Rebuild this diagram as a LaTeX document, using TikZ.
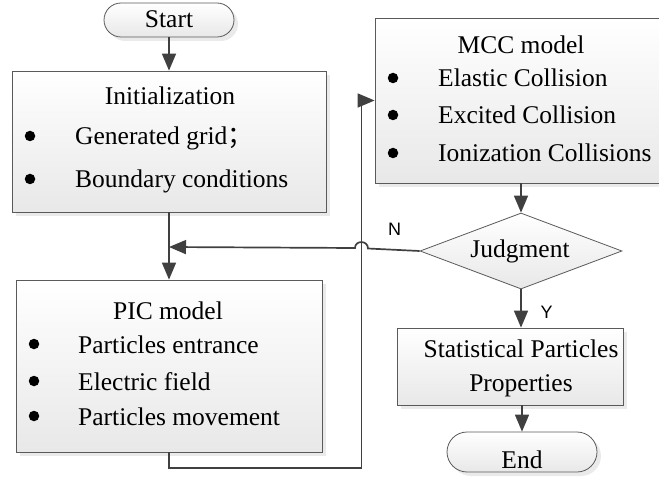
\documentclass[tikz,border=0pt]{standalone}
\usepackage{fontspec}
\setmainfont{Liberation Serif}
\newfontfamily\cjk{Noto Sans CJK SC}
\newfontfamily\labfont{Liberation Sans}
\usetikzlibrary{shapes.geometric,shapes.misc,arrows.meta,shadows}
\definecolor{linec}{HTML}{404040}
\definecolor{borderc}{HTML}{5A5A5A}
\begin{document}
\begin{tikzpicture}[x=1pt,y=-1pt,
  box/.style={draw=borderc, line width=0.8pt, top color=white, bottom color=black!9,
    drop shadow={shadow xshift=4pt,shadow yshift=-4pt,fill=black!16}, inner sep=0pt},
  rectbox/.style={box, rectangle},
  term/.style={box, rounded rectangle},
  decision/.style={draw=borderc, line width=0.8pt, top color=white, bottom color=black!9,
    diamond, inner sep=0pt},
  txt/.style={font=\fontsize{25.5}{30}\selectfont, inner sep=0pt, anchor=base west},
  ctxt/.style={txt, anchor=base},
  bul/.style={circle, fill=black, inner sep=0pt, minimum size=10.5pt},
  lab/.style={inner sep=0pt, anchor=base},
  arr/.style={draw=linec, line width=1.7pt, -{Triangle[length=17pt,width=14pt]}},
  ln/.style={draw=linec, line width=1.7pt}
]
\useasboundingbox (0,0) rectangle (659,484);

% terminals and boxes
\node[term, minimum width=130pt, minimum height=34pt] (start) at (169,20) {};
\node[ctxt] (startt) at (169,28) {Start};

\node[rectbox, minimum width=314pt, minimum height=141pt] (init) at (169,141.5) {};
\node[ctxt] (initt) at (170,105) {Initialization};
\node[bul] (ib1) at (30,136) {};
\node[txt] (i1) at (75,145) {Generated grid{\cjk ；}};
\node[bul] (ib2) at (30,179) {};
\node[txt] (i2) at (75,188) {Boundary conditions};

\node[rectbox, minimum width=306pt, minimum height=172pt] (pic) at (169,366) {};
\node[ctxt] (pict) at (168,319) {PIC model};
\node[bul] (pb1) at (34,344) {};
\node[txt] (p1) at (78,353) {Particles entrance};
\node[bul] (pb2) at (34,381) {};
\node[txt] (p2) at (78,390) {Electric field};
\node[bul] (pb3) at (34,416) {};
\node[txt] (p3) at (78,425) {Particles movement};

\node[rectbox, minimum width=290pt, minimum height=165pt] (mcc) at (520,100.5) {};
\node[ctxt] (mcct) at (521,54) {MCC model};
\node[bul] (mb1) at (393,78) {};
\node[txt] (m1) at (438,87) {Elastic Collision};
\node[bul] (mb2) at (393,115) {};
\node[txt] (m2) at (438,124) {Excited Collision};
\node[bul] (mb3) at (393,153) {};
\node[txt] (m3) at (438,162) {Ionization Collisions};

\node[decision, minimum width=202pt, minimum height=76pt] (judge) at (521,251) {};
\node[ctxt] (judget) at (520,257) {Judgment};

\node[rectbox, minimum width=226pt, minimum height=77pt] (stat) at (510,366.5) {};
\node[ctxt] (s1) at (521,357) {Statistical Particles};
\node[ctxt] (s2) at (521,391) {Properties};

\node[term, minimum width=150pt, minimum height=40pt] (endn) at (522,452) {};
\node[ctxt] (endt) at (522,468) {End};

\node[lab] (nlab) at (394.5,235) {\labfont\fontsize{18}{20}\selectfont N};
\node[lab] (ylab) at (546.5,318) {\labfont\fontsize{18}{20}\selectfont Y};

% connectors
\draw[arr] (start.south) -- (init.north);
\draw[arr] (init.south) -- (pic.north);
\coordinate (merge) at (169,247);
\coordinate (hopr) at (368,248.5);
\coordinate (hopl) at (355,248);
\coordinate (turn) at (361.5,468);
\draw[arr] (judge.west) -- (hopr) .. controls (368,240) and (355,240) .. (hopl) -- (merge);
\draw[arr] (pic.south) |- (turn) |- (mcc.west);
\draw[arr] (judge.north |- mcc.south) -- (judge.north);
\draw[arr] (judge.south) -- (judge.south |- stat.north);
\draw[arr] (endn.north |- stat.south) -- (endn.north);
\end{tikzpicture}
\end{document}
